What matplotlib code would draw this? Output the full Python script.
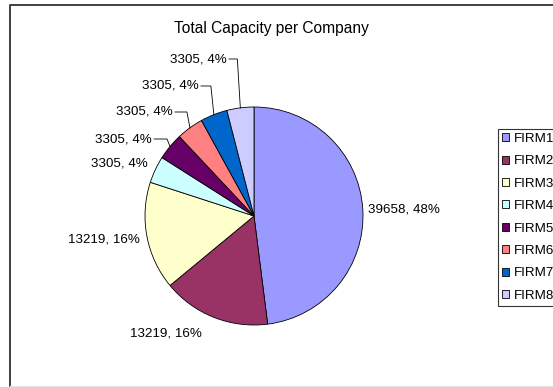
import numpy as np
import matplotlib
matplotlib.use("Agg")
import matplotlib.pyplot as plt
from matplotlib.patches import Patch

plt.rcParams['font.family'] = ['Liberation Sans', 'DejaVu Sans']

# capacity per firm
firms = ["FIRM1", "FIRM2", "FIRM3", "FIRM4", "FIRM5", "FIRM6", "FIRM7", "FIRM8"]
capacity = [39658, 13219, 13219, 3305, 3305, 3305, 3305, 3305]
colors = ["#9999FF", "#993366", "#FFFFCC", "#CCFFFF",
          "#660066", "#FF8080", "#0066CC", "#CCCCFF"]

W, H = 553, 387
# label anchors in pixels from the top-left corner, with alignment and leader flag
label_layout = [
    (368, 209, "left", False),
    (166, 334, "center", False),
    (140, 240, "right", False),
    (148, 164, "right", False),
    (152, 139, "right", True),
    (173, 112, "right", True),
    (199, 86, "right", True),
    (227, 59, "right", True),
]
pie_cx, pie_cy, pie_r = 254, 216, 109

fig = plt.figure(figsize=(W / 100, H / 100), dpi=100)
ax = fig.add_axes([0, 0, 1, 1])

wedges, _ = ax.pie(capacity, colors=colors, startangle=90, counterclock=False,
                   center=(pie_cx, H - pie_cy), radius=pie_r,
                   wedgeprops=dict(edgecolor="black", linewidth=0.6))
ax.set_xlim(0, W)
ax.set_ylim(0, H)
ax.set_aspect("auto")
ax.axis("off")

total = sum(capacity)
for w, val, (lx, ly, ha, leader) in zip(wedges, capacity, label_layout):
    pct = round(100 * val / total)
    ax.text(lx, H - ly, f"{val}, {pct}%", ha=ha, va="center", fontsize=9.6,
            color="black")
    if leader:
        theta = np.deg2rad((w.theta1 + w.theta2) / 2)
        px = pie_cx + pie_r * np.cos(theta)
        py = H - pie_cy + pie_r * np.sin(theta)
        ax.plot([lx + 2, px - 3, px], [H - ly, H - ly, py],
                color="black", linewidth=0.6, solid_joinstyle="miter")

ax.text(271, H - 29, "Total Capacity per Company", ha="center", va="center",
        fontsize=11.2)

# chart frame
ax.plot([9.5, 9.5, W + 5], [0, H - 4.5, H - 4.5], color="#404040", linewidth=1.4)
ax.plot([9.5, W + 5], [0.8, 0.8], color="#e6e6e6", linewidth=1.0)

handles = [Patch(facecolor=c, edgecolor="black", linewidth=0.6) for c in colors]
leg = fig.legend(handles, firms, loc="upper left",
                 bbox_to_anchor=(498 / W, 1 - 129 / H), borderaxespad=0,
                 fontsize=9.6, frameon=True, fancybox=False, edgecolor="black",
                 handlelength=0.55, handleheight=0.55, handletextpad=0.35,
                 labelspacing=0.78, borderpad=0.3)
leg.get_frame().set_linewidth(0.8)

fig.savefig("out.png", dpi=100)
